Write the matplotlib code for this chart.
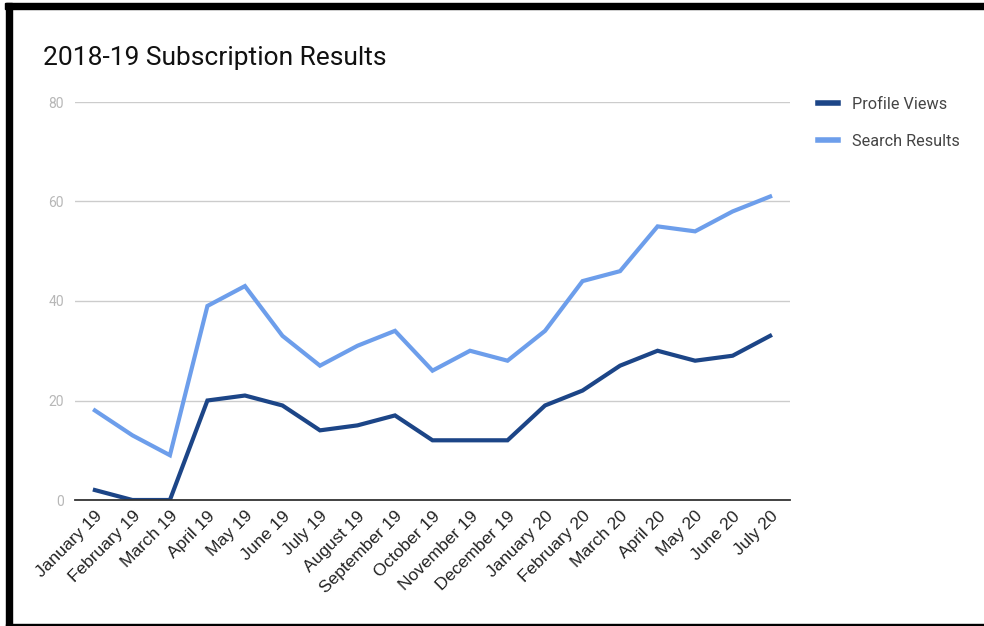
import matplotlib
matplotlib.use('Agg')
import matplotlib.pyplot as plt
from matplotlib.patches import Rectangle

months = ['January 19', 'February 19', 'March 19', 'April 19', 'May 19', 'June 19',
          'July 19', 'August 19', 'September 19', 'October 19', 'November 19',
          'December 19', 'January 20', 'February 20', 'March 20', 'April 20',
          'May 20', 'June 20', 'July 20']
profile_views = [2, 0, 0, 20, 21, 19, 14, 15, 17, 12, 12, 12, 19, 22, 27, 30, 28, 29, 33]
search_results = [18, 13, 9, 39, 43, 33, 27, 31, 34, 26, 30, 28, 34, 44, 46, 55, 54, 58, 61]
y_ticks = [0, 20, 40, 60, 80]

plt.rcParams['font.family'] = ['Roboto', 'DejaVu Sans']

fig = plt.figure(figsize=(9.84, 6.26), dpi=100)
ax = fig.add_axes([75 / 984, 1 - 500 / 626, 715 / 984, 398 / 626])

x = list(range(len(months)))
ax.plot(x, profile_views, color='#1c4587', lw=3, label='Profile Views', solid_joinstyle='miter')
ax.plot(x, search_results, color='#6d9eeb', lw=3, label='Search Results', solid_joinstyle='miter')

ax.set_xlim(-0.53, len(months) - 1 + 0.53)
ax.set_ylim(0, 80)
ax.set_yticks(y_ticks)
ax.set_yticklabels([str(v) for v in y_ticks], color='#b7b7b7', fontsize=10)
ax.set_xticks(x)
ax.set_xticklabels(months, rotation=45, ha='right', rotation_mode='anchor',
                   fontsize=12.5, color='#222222', family=['Liberation Sans', 'DejaVu Sans'])
ax.tick_params(length=0, axis='both')
ax.tick_params(axis='y', pad=8)
ax.tick_params(axis='x', pad=6)
ax.grid(axis='y', color='#cccccc', lw=1)
ax.set_axisbelow(True)
for s in ['top', 'right', 'left']:
    ax.spines[s].set_visible(False)
ax.spines['bottom'].set_color('#333333')
ax.spines['bottom'].set_linewidth(1.3)

leg = ax.legend(loc='upper left', bbox_to_anchor=(1.019, 1.05), frameon=False,
                fontsize=11.7, handlelength=1.2, handletextpad=0.9, labelspacing=1.35,
                labelcolor='#444444')
for h in leg.get_lines():
    h.set_linewidth(4)

fig.text(43 / 984, 1 - 58 / 626, '2018-19 Subscription Results', fontsize=19,
         color='#111111', va='center', ha='left')

# frame around the screenshot
fig.patches.append(Rectangle((5 / 984, 1 - 9 / 626), 1, 6 / 626,
                             transform=fig.transFigure, color='black', zorder=10))
fig.patches.append(Rectangle((6 / 984, 0), 6 / 984, 1 - 3 / 626,
                             transform=fig.transFigure, color='black', zorder=10))
fig.patches.append(Rectangle((6 / 984, 0), 1, 2 / 626,
                             transform=fig.transFigure, color='black', zorder=10))

fig.savefig('out.png', dpi=100)
